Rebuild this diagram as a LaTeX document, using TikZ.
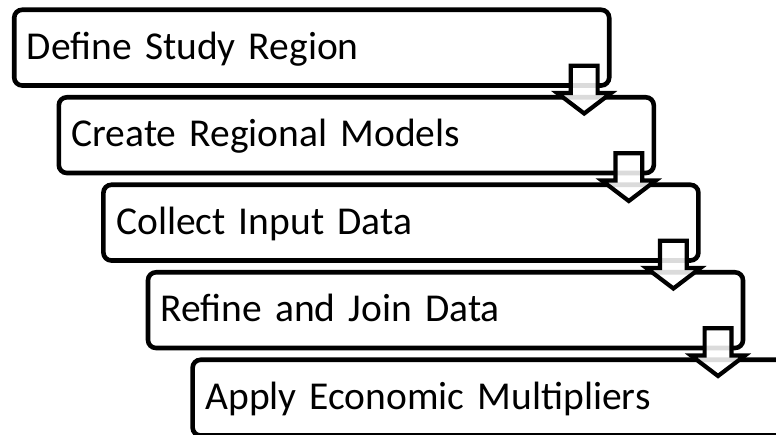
\documentclass[tikz,border=0pt]{standalone}
\usepackage{fontspec}
\setmainfont{Carlito}
\usetikzlibrary{calc}

\begin{document}
\begin{tikzpicture}[
        x=1pt, y=-1pt,
        stepbox/.style={draw=black, fill=white, line width=4.6pt, rounded corners=8pt,
          anchor=north west, outer sep=0pt, minimum width=595pt, minimum height=75.7pt,
          inner xsep=12.8pt, text width=569.4pt, align=left,
          text height=29pt, text depth=5.7pt, font=\fontsize{39.5}{47}\selectfont},
        dnarrow/.style={draw=black, line width=4.2pt, fill=white, fill opacity=0.86,
          draw opacity=1, line join=miter}
      ]
      \useasboundingbox (0,0) rectangle (776,435);
      \clip (0,0) rectangle (776,435);
      \node[stepbox] (b1) at (14.2,9.8)  {Define Study Region};
      \node[stepbox] (b2) at (58.8,97.3) {Create Regional Models};
      \node[stepbox] (b3) at (103.4,184.8) {Collect Input Data};
      \node[stepbox] (b4) at (148.0,272.3) {Refine and Join Data};
      \node[stepbox] (b5) at (192.6,359.8) {Apply Economic Multipliers};
      % arrows
      \draw[dnarrow] ($(b1.south east)+(-38.4,-19.7)$) -- ++(0,27.2) -- ++(-13.6,0) -- ++(27,20.5)
        -- ++(27,-20.5) -- ++(-13.6,0) -- ++(0,-27.2) -- cycle;
      \draw[dnarrow] ($(b2.south east)+(-38.4,-19.7)$) -- ++(0,27.2) -- ++(-13.6,0) -- ++(27,20.5)
        -- ++(27,-20.5) -- ++(-13.6,0) -- ++(0,-27.2) -- cycle;
      \draw[dnarrow] ($(b3.south east)+(-38.4,-19.7)$) -- ++(0,27.2) -- ++(-13.6,0) -- ++(27,20.5)
        -- ++(27,-20.5) -- ++(-13.6,0) -- ++(0,-27.2) -- cycle;
      \draw[dnarrow] ($(b4.south east)+(-38.4,-19.7)$) -- ++(0,27.2) -- ++(-13.6,0) -- ++(27,20.5)
        -- ++(27,-20.5) -- ++(-13.6,0) -- ++(0,-27.2) -- cycle;
    \end{tikzpicture}
\end{document}
